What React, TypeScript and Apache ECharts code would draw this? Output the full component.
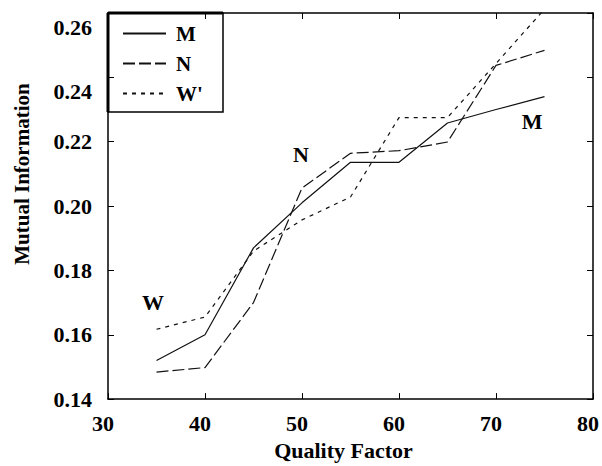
import React, { useEffect, useRef } from "react";
import * as echarts from "echarts";

const quality = [35, 40, 45, 50, 55, 60, 65, 70, 75];
const mValues = [0.152, 0.16, 0.187, 0.201, 0.2136, 0.2136, 0.2258, 0.23, 0.234];
const nValues = [0.1484, 0.1498, 0.17, 0.2056, 0.2164, 0.2172, 0.2199, 0.2437, 0.2484];
const wValues = [0.1617, 0.1655, 0.186, 0.1957, 0.2028, 0.2275, 0.2275, 0.2443, 0.2612];
const seriesNames = ["M", "N", "W'"];
const xTicks = { min: 30, max: 80, interval: 10 };
const yTicks = { min: 0.14, max: 0.26, interval: 0.02 };

const FONT = "'Liberation Serif', 'Times New Roman', serif";

export default function App() {
  const ref = useRef<HTMLDivElement>(null);
  useEffect(() => {
    if (!ref.current) return;
    const chart = echarts.init(ref.current, null, { renderer: "svg" });
    const toPairs = (vals: number[]) => quality.map((q, i) => [q, vals[i]]);
    const axisLineStyle = { color: "#000", width: 1.5 };
    const txt = { fontFamily: FONT, fontWeight: "bold" as const, color: "#000" };
    chart.setOption({
      animation: false,
      backgroundColor: "#fff",
      grid: { left: 108, right: 9, top: 13, bottom: 66, containLabel: false },
      legend: {
        data: seriesNames,
        orient: "vertical",
        left: 122,
        top: 23,
        itemWidth: 43,
        itemHeight: 14,
        itemGap: 9,
        padding: 0,
        itemStyle: { opacity: 0, borderWidth: 0 },
        textStyle: { ...txt, fontSize: 21, padding: [0, 0, 0, 5] },
      },
      xAxis: [
        {
          type: "value",
          min: xTicks.min,
          max: xTicks.max,
          interval: xTicks.interval,
          position: "bottom",
          name: "Quality Factor",
          nameLocation: "middle",
          nameGap: 35,
          nameTextStyle: { ...txt, fontSize: 22, padding: [0, 14, 0, 0] },
          axisLine: { show: true, lineStyle: axisLineStyle },
          axisTick: { show: true, inside: true, length: 6, lineStyle: { color: "#000", width: 1 } },
          axisLabel: { ...txt, fontSize: 22, margin: 13, padding: [0, 10, 0, 0] },
          splitLine: { show: false },
        },
        {
          type: "value",
          min: xTicks.min,
          max: xTicks.max,
          interval: xTicks.interval,
          position: "top",
          axisLine: { show: true, lineStyle: axisLineStyle },
          axisTick: { show: true, inside: true, length: 6, lineStyle: { color: "#000", width: 1 } },
          axisLabel: { show: false },
          splitLine: { show: false },
        },
      ],
      yAxis: [
        {
          type: "value",
          min: yTicks.min,
          max: yTicks.max,
          interval: yTicks.interval,
          position: "left",
          name: "Mutual Information",
          nameLocation: "middle",
          nameGap: 76,
          nameTextStyle: { ...txt, fontSize: 21, padding: [0, 0, 0, 64] },
          axisLine: { show: true, lineStyle: axisLineStyle },
          axisTick: { show: true, inside: true, length: 6, lineStyle: { color: "#000", width: 1 } },
          axisLabel: {
            ...txt,
            fontSize: 22,
            margin: 16,
            formatter: (v: number) => {
              const s = v.toFixed(2);
              return v > 0.23 ? `{low|${s}}` : s;
            },
            rich: {
              low: { ...txt, fontSize: 22, padding: [28, 0, 0, 0] },
            },
          },
          splitLine: { show: false },
        },
        {
          type: "value",
          min: yTicks.min,
          max: yTicks.max,
          interval: yTicks.interval,
          position: "right",
          axisLine: { show: true, lineStyle: axisLineStyle },
          axisTick: { show: true, inside: true, length: 6, lineStyle: { color: "#000", width: 1 } },
          axisLabel: { show: false },
          splitLine: { show: false },
        },
      ],
      series: [
        {
          name: "M",
          type: "line",
          data: toPairs(mValues),
          symbol: "none",
          clip: true,
          lineStyle: { color: "#111", width: 1.2, type: "solid" },
          itemStyle: { color: "#111" },
        },
        {
          name: "N",
          type: "line",
          data: toPairs(nValues),
          symbol: "none",
          clip: true,
          lineStyle: { color: "#111", width: 1.2, type: [12, 4] },
          itemStyle: { color: "#111" },
        },
        {
          name: "W'",
          type: "line",
          data: toPairs(wValues),
          symbol: "none",
          clip: true,
          lineStyle: { color: "#111", width: 1.2, type: [4, 5] },
          itemStyle: { color: "#111" },
        },
      ],
      graphic: [
        {
          type: "rect",
          z: -1,
          shape: { x: 108, y: 13, width: 115, height: 99 },
          style: { fill: "#fff", stroke: "#000", lineWidth: 1.5 },
        },
        {
          type: "line",
          shape: { x1: 108, y1: 13, x2: 223, y2: 13 },
          style: { stroke: "#000", lineWidth: 3 },
        },
        {
          type: "line",
          shape: { x1: 108, y1: 13, x2: 108, y2: 112 },
          style: { stroke: "#000", lineWidth: 3 },
        },
        {
          type: "text",
          x: 153,
          y: 302,
          style: { text: "W", ...txt, fill: "#000", fontSize: 22, align: "center", verticalAlign: "middle" },
        },
        {
          type: "text",
          x: 301,
          y: 154,
          style: { text: "N", ...txt, fill: "#000", fontSize: 22, align: "center", verticalAlign: "middle" },
        },
        {
          type: "text",
          x: 532,
          y: 121,
          style: { text: "M", ...txt, fill: "#000", fontSize: 22, align: "center", verticalAlign: "middle" },
        },
      ],
    });
    return () => chart.dispose();
  }, []);
  return <div ref={ref} style={{ width: 602, height: 466, position: "absolute", left: 0, top: 0 }} />;
}
